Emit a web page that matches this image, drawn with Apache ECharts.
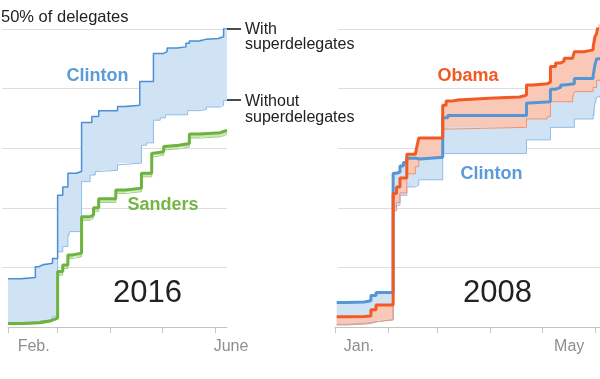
<!DOCTYPE html>
<html><head><meta charset="utf-8">
<script src="https://cdn.jsdelivr.net/npm/echarts@6/dist/echarts.min.js"></script>
<style>html,body{margin:0;padding:0;background:#fff}#c{width:600px;height:379px}</style>
</head><body><div id="c"></div>
<script>
// ---------- 2016 (day 0 = Feb. 1) values are % of all delegates ----------
const days2016 = 129;
const monthStarts2016 = [0, 29, 60, 90, 121];
const labelDays2016 = [15, 121];
const labelText2016 = ['Feb.', 'June'];
const clinton16With = [[0,8.1],[8,8.3],[16,10.1],[18,10.4],[20,10.7],[26,11.5],[29,22.1],[32,23.5],[35,25.8],[40,26.1],[43,34.3],[49,35.3],[53,36.3],[64,37.0],[69,37.2],[77,41.2],[85,45.9],[91,46.2],[93,46.8],[99,47.0],[104,47.6],[106,48.0],[112,48.3],[116,48.4],[123,48.7],[126,50.1],[128,50.3]];
const clinton16Without = [[0,0.5],[8,0.65],[19,1.05],[26,1.8],[29,12.6],[32,13.5],[35,15.2],[36,16.0],[43,24.4],[48,25.5],[51,26.1],[54,26.3],[64,27.2],[65,27.5],[78,30.5],[81,30.9],[85,34.7],[89,35.1],[92,35.6],[105,36.3],[112,36.5],[116,36.9],[124,37.2],[126,38.0],[128,38.1]];
const sanders16With = [[0,0.6],[8,0.75],[19,1.05],[25,1.3],[27,1.5],[29,9.3],[32,10.4],[35,12.1],[38,12.4],[43,18.5],[48,18.8],[50,20.0],[53,21.5],[63,23.0],[69,23.3],[78,25.8],[84,29.1],[85,29.4],[91,30.3],[92,30.5],[100,30.8],[106,32.4],[112,32.6],[124,32.8],[126,33.0],[128,33.0]];
const sanders16Without = [[0,0.4],[8,0.55],[19,0.85],[25,1.1],[27,1.3],[29,8.7],[32,9.8],[35,11.5],[38,11.8],[43,17.9],[48,18.2],[50,19.4],[53,20.9],[63,22.4],[69,22.7],[78,25.2],[84,28.5],[85,28.8],[91,29.7],[92,29.9],[100,30.2],[106,31.7],[112,31.9],[124,32.1],[126,32.3],[128,32.3]];

// ---------- 2008 (day 0 = Jan. 1) ----------
const days2008 = 156;
const monthStarts2008 = [0, 31, 60, 91, 121, 152];
const labelDays2008 = [14, 137];
const labelText2008 = ['Jan.', 'May'];
const clinton08With = [[1,4.1],[7,4.2],[17,4.4],[21,5.3],[24,5.8],[34,25.8],[36,26.0],[38,27.0],[40,27.6],[42,28.3],[47,28.6],[48,28.2],[50,28.5],[63,35.1],[66,35.5],[112,37.6],[114,37.8],[126,39.9],[129,40.2],[132,40.6],[134,40.8],[140,41.7],[151,42.2],[152,43.9],[153,45.0],[155,45.2]];
const clinton08Without = [[1,0.45],[7,0.65],[18,0.95],[25,1.2],[34,20.2],[36,20.5],[38,22.1],[42,23.5],[47,23.8],[49,24.7],[63,29.1],[112,31.4],[126,33.5],[140,34.9],[151,35.4],[152,37.5],[153,38.6],[155,38.8]];
const obama08With = [[1,1.7],[7,1.75],[17,1.85],[21,2.9],[24,3.7],[34,22.4],[36,23.5],[38,25.0],[42,29.0],[47,29.3],[48,30.4],[49,31.7],[63,37.2],[65,37.9],[68,38.1],[72,38.4],[90,38.6],[108,38.9],[112,40.6],[116,40.8],[124,41.1],[126,43.7],[129,44.3],[132,44.6],[134,45.1],[139,45.3],[140,46.2],[146,46.5],[151,47.0],[152,48.7],[153,49.2],[154,50.8],[155,51.0]];
const obama08Without = [[1,0.35],[7,0.5],[18,0.6],[21,0.9],[25,1.2],[34,19.5],[36,20.9],[38,22.5],[42,25.7],[47,26.9],[49,28.3],[63,33.2],[66,33.5],[112,34.9],[124,35.3],[126,37.8],[139,38.6],[140,39.5],[151,40.2],[153,41.4],[155,41.5]];

const FONT = '"Liberation Sans", Arial, sans-serif';
const AX = '#c4c4c4', GRID = '#dedede', LBL = '#8f8f8f', INK = '#222';

const chart = echarts.init(document.getElementById('c'), null, {renderer: 'canvas'});

function stepPath(arr) {
  const pts = [];
  for (let i = 0; i < arr.length; i++) {
    pts.push(arr[i]);
    if (i + 1 < arr.length) pts.push([arr[i + 1][0], arr[i][1]]);
  }
  return pts;
}
function band(ai, upper, lower, fill, z, blend) {
  return {
    type: 'custom', xAxisIndex: ai, yAxisIndex: ai, silent: true, z: z, data: [[0, 0]],
    renderItem: function (params, api) {
      const up = stepPath(upper).map(p => api.coord(p));
      const lo = stepPath(lower).map(p => api.coord(p)).reverse();
      const style = {fill: fill};
      if (blend) style.blend = blend;
      return {type: 'polygon', shape: {points: up.concat(lo)}, style: style};
    }
  };
}
function line(ai, data, color, width, z) {
  return {type: 'line', xAxisIndex: ai, yAxisIndex: ai, data: data, step: 'end', symbol: 'none',
    silent: true, z: z, lineStyle: {color: color, width: width}, itemStyle: {color: color}};
}
function cats(n) { const a = []; for (let i = 0; i < n; i++) a.push('d' + i); return a; }
function catAxis(grid, n, ticks, lDays, lText) {
  return {
    gridIndex: grid, type: 'category', data: cats(n), boundaryGap: false,
    axisLine: {lineStyle: {color: AX, width: 1}},
    axisTick: {length: 6, lineStyle: {color: AX}, interval: (i) => ticks.indexOf(i) >= 0},
    axisLabel: {
      interval: (i) => lDays.indexOf(i) >= 0,
      formatter: (v, i) => { const k = lDays.indexOf(i); const t = lText[k]; return t === 'June' ? '{s|' + t + '}' : t; },
      color: LBL, fontSize: 16, fontFamily: FONT, margin: 12,
      rich: {s: {padding: [0, 0, 0, 32], color: LBL, fontSize: 16, fontFamily: FONT}}
    },
    splitLine: {show: false}
  };
}
function splitY(grid) {
  return {gridIndex: grid, type: 'value', min: 10, max: 50, interval: 10,
    axisLine: {show: false}, axisTick: {show: false}, axisLabel: {show: false},
    splitLine: {lineStyle: {color: GRID, width: 1}}};
}
function dataY(grid) { return {gridIndex: grid, type: 'value', min: 0, max: 50, show: false, splitLine: {show: false}}; }
function txt(text, x, y, size, color, weight, align) {
  return {type: 'text', z: 100, style: {text: text, x: x, y: y, fill: color,
    font: (weight || 'normal') + ' ' + size + 'px ' + FONT, align: align || 'left', verticalAlign: 'middle'}};
}
function dash(x1, x2, y) {
  return {type: 'line', z: 100, shape: {x1: x1, y1: y, x2: x2, y2: y}, style: {stroke: '#111', lineWidth: 1.5}};
}

const option = {
  animation: false,
  backgroundColor: '#fff',
  grid: [
    {left: 2, right: 373, top: 29, bottom: 111.6},
    {left: 8, right: 373, top: 29, bottom: 52},
    {left: 338, right: 0, top: 29, bottom: 111.6},
    {left: 335, right: 0, top: 29, bottom: 52}
  ],
  xAxis: [
    {gridIndex: 0, type: 'value', min: 0, max: 1, show: false},
    catAxis(1, days2016, monthStarts2016, labelDays2016, labelText2016),
    {gridIndex: 2, type: 'value', min: 0, max: 1, show: false},
    catAxis(3, days2008, monthStarts2008, labelDays2008, labelText2008)
  ],
  yAxis: [splitY(0), dataY(1), splitY(2), dataY(3)],
  series: [
    band(1, clinton16With, clinton16Without, '#d0e3f4', 1),
    band(1, sanders16With, sanders16Without, '#cde6b9', 1),
    line(1, clinton16Without, '#8fbde8', 1, 2),
    line(1, sanders16Without, '#a3d184', 1, 2),
    line(1, clinton16With, '#4a8fd6', 1.5, 3),
    line(1, sanders16With, '#6db33f', 3, 3),

    band(3, clinton08With, clinton08Without, '#d0e3f4', 1),
    band(3, obama08With, obama08Without, '#f9c8b6', 2, 'multiply'),
    line(3, clinton08Without, '#8fbde8', 1, 3),
    line(3, obama08Without, '#f39270', 1, 3),
    line(3, clinton08With, '#5597d6', 3, 4),
    line(3, obama08With, '#f15a24', 3, 5)
  ],
  graphic: [
    txt('50% of delegates', 1, 17.5, 16.5, INK),
    dash(227, 241, 29), dash(227, 241, 100),
    txt('With', 245, 29.5, 16, INK),
    txt('superdelegates', 245, 45, 16, INK),
    txt('Without', 245, 101.5, 16, INK),
    txt('superdelegates', 245, 118, 16, INK),
    txt('Clinton', 97.5, 76.5, 18, '#5a9bd8', 'bold', 'center'),
    txt('Sanders', 163, 205.5, 18, '#76b647', 'bold', 'center'),
    txt('Obama', 468, 76.5, 18, '#f15a24', 'bold', 'center'),
    txt('Clinton', 491.5, 174.5, 18, '#5a9bd8', 'bold', 'center'),
    txt('2016', 147.5, 293, 31, INK, 'normal', 'center'),
    txt('2008', 497.5, 293, 31, INK, 'normal', 'center')
  ]
};
chart.setOption(option);
</script>
</body></html>
